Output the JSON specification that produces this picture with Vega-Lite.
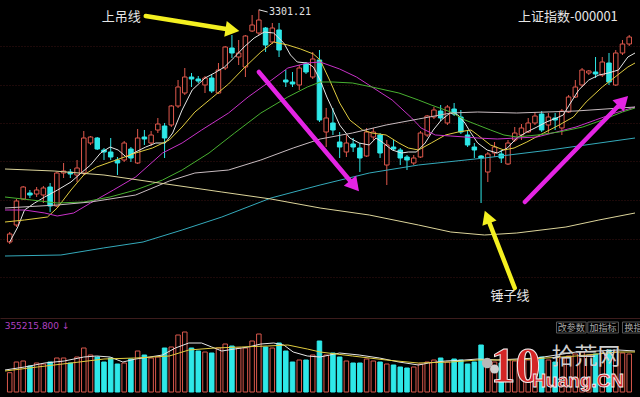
{
"$schema": "https://vega.github.io/schema/vega-lite/v6.json",
"background": "#000000",
"padding": 0,
"spacing": 0,
"config": {"view": {"stroke": null}, "axis": {"domain": false}},
"datasets": {
"k": [
{"i":0,"o":3069,"c":3077,"h":3079,"l":3067,"v":193000},
{"i":1,"o":3086,"c":3110,"h":3112,"l":3084,"v":300000},
{"i":2,"o":3112,"c":3124,"h":3125,"l":3111,"v":310000},
{"i":3,"o":3118,"c":3116,"h":3121,"l":3113,"v":260000},
{"i":4,"o":3117,"c":3121,"h":3124,"l":3114,"v":290000},
{"i":5,"o":3116,"c":3123,"h":3125,"l":3108,"v":280000},
{"i":6,"o":3124,"c":3105,"h":3128,"l":3099,"v":300000},
{"i":7,"o":3105,"c":3138,"h":3139,"l":3104,"v":340000},
{"i":8,"o":3138,"c":3140,"h":3148,"l":3133,"v":340000},
{"i":9,"o":3139,"c":3137,"h":3142,"l":3133,"v":290000},
{"i":10,"o":3136,"c":3143,"h":3151,"l":3129,"v":350000},
{"i":11,"o":3138,"c":3173,"h":3180,"l":3136,"v":440000},
{"i":12,"o":3168,"c":3174,"h":3175,"l":3166,"v":370000},
{"i":13,"o":3173,"c":3162,"h":3174,"l":3161,"v":350000},
{"i":14,"o":3161,"c":3159,"h":3163,"l":3151,"v":300000},
{"i":15,"o":3159,"c":3154,"h":3173,"l":3151,"v":340000},
{"i":16,"o":3151,"c":3148,"h":3154,"l":3136,"v":280000},
{"i":17,"o":3151,"c":3168,"h":3170,"l":3149,"v":290000},
{"i":18,"o":3162,"c":3153,"h":3164,"l":3149,"v":330000},
{"i":19,"o":3148,"c":3173,"h":3182,"l":3147,"v":410000},
{"i":20,"o":3174,"c":3172,"h":3181,"l":3166,"v":370000},
{"i":21,"o":3168,"c":3176,"h":3180,"l":3165,"v":340000},
{"i":22,"o":3181,"c":3187,"h":3193,"l":3178,"v":350000},
{"i":23,"o":3185,"c":3173,"h":3188,"l":3153,"v":440000},
{"i":24,"o":3186,"c":3205,"h":3206,"l":3184,"v":450000},
{"i":25,"o":3205,"c":3224,"h":3231,"l":3203,"v":570000},
{"i":26,"o":3218,"c":3234,"h":3243,"l":3216,"v":600000},
{"i":27,"o":3234,"c":3232,"h":3238,"l":3224,"v":440000},
{"i":28,"o":3232,"c":3230,"h":3235,"l":3228,"v":410000},
{"i":29,"o":3226,"c":3233,"h":3235,"l":3218,"v":400000},
{"i":30,"o":3233,"c":3220,"h":3236,"l":3218,"v":390000},
{"i":31,"o":3218,"c":3241,"h":3248,"l":3217,"v":440000},
{"i":32,"o":3243,"c":3264,"h":3265,"l":3241,"v":480000},
{"i":33,"o":3263,"c":3258,"h":3276,"l":3253,"v":460000},
{"i":34,"o":3254,"c":3258,"h":3271,"l":3246,"v":440000},
{"i":35,"o":3244,"c":3275,"h":3276,"l":3234,"v":440000},
{"i":36,"o":3280,"c":3286,"h":3296,"l":3279,"v":510000},
{"i":37,"o":3278,"c":3291,"h":3301.21,"l":3276,"v":580000},
{"i":38,"o":3283,"c":3266,"h":3284,"l":3259,"v":450000},
{"i":39,"o":3269,"c":3283,"h":3288,"l":3267,"v":440000},
{"i":40,"o":3281,"c":3261,"h":3288,"l":3254,"v":490000},
{"i":41,"o":3231,"c":3229,"h":3241,"l":3224,"v":410000},
{"i":42,"o":3229,"c":3227,"h":3239,"l":3224,"v":300000},
{"i":43,"o":3226,"c":3243,"h":3246,"l":3221,"v":320000},
{"i":44,"o":3247,"c":3239,"h":3249,"l":3237,"v":320000},
{"i":45,"o":3234,"c":3252,"h":3259,"l":3232,"v":370000},
{"i":46,"o":3251,"c":3191,"h":3261,"l":3189,"v":510000},
{"i":47,"o":3179,"c":3193,"h":3203,"l":3164,"v":370000},
{"i":48,"o":3188,"c":3181,"h":3203,"l":3176,"v":390000},
{"i":49,"o":3169,"c":3164,"h":3179,"l":3153,"v":350000},
{"i":50,"o":3159,"c":3168,"h":3176,"l":3154,"v":310000},
{"i":51,"o":3167,"c":3164,"h":3173,"l":3159,"v":290000},
{"i":52,"o":3163,"c":3153,"h":3168,"l":3139,"v":290000},
{"i":53,"o":3155,"c":3179,"h":3183,"l":3154,"v":330000},
{"i":54,"o":3174,"c":3179,"h":3183,"l":3171,"v":310000},
{"i":55,"o":3176,"c":3158,"h":3178,"l":3153,"v":300000},
{"i":56,"o":3146,"c":3166,"h":3171,"l":3126,"v":280000},
{"i":57,"o":3164,"c":3162,"h":3171,"l":3160,"v":270000},
{"i":58,"o":3161,"c":3153,"h":3163,"l":3146,"v":250000},
{"i":59,"o":3154,"c":3151,"h":3156,"l":3141,"v":240000},
{"i":60,"o":3148,"c":3153,"h":3156,"l":3146,"v":250000},
{"i":61,"o":3154,"c":3178,"h":3180,"l":3153,"v":280000},
{"i":62,"o":3176,"c":3195,"h":3196,"l":3174,"v":300000},
{"i":63,"o":3194,"c":3201,"h":3204,"l":3192,"v":320000},
{"i":64,"o":3200,"c":3193,"h":3206,"l":3190,"v":340000},
{"i":65,"o":3188,"c":3204,"h":3206,"l":3186,"v":300000},
{"i":66,"o":3202,"c":3197,"h":3208,"l":3195,"v":330000},
{"i":67,"o":3194,"c":3179,"h":3201,"l":3177,"v":320000},
{"i":68,"o":3176,"c":3166,"h":3181,"l":3164,"v":280000},
{"i":69,"o":3164,"c":3161,"h":3168,"l":3153,"v":300000},
{"i":70,"o":3155,"c":3153,"h":3156,"l":3108,"v":470000},
{"i":71,"o":3139,"c":3157,"h":3159,"l":3129,"v":330000},
{"i":72,"o":3158,"c":3164,"h":3169,"l":3154,"v":300000},
{"i":73,"o":3157,"c":3153,"h":3161,"l":3148,"v":290000},
{"i":74,"o":3147,"c":3168,"h":3171,"l":3146,"v":320000},
{"i":75,"o":3171,"c":3178,"h":3184,"l":3169,"v":310000},
{"i":76,"o":3176,"c":3183,"h":3187,"l":3171,"v":300000},
{"i":77,"o":3179,"c":3188,"h":3193,"l":3178,"v":320000},
{"i":78,"o":3188,"c":3195,"h":3199,"l":3186,"v":330000},
{"i":79,"o":3197,"c":3181,"h":3200,"l":3179,"v":350000},
{"i":80,"o":3186,"c":3194,"h":3198,"l":3178,"v":320000},
{"i":81,"o":3193,"c":3191,"h":3198,"l":3181,"v":300000},
{"i":82,"o":3183,"c":3200,"h":3202,"l":3176,"v":340000},
{"i":83,"o":3199,"c":3214,"h":3216,"l":3198,"v":360000},
{"i":84,"o":3214,"c":3224,"h":3231,"l":3213,"v":380000},
{"i":85,"o":3226,"c":3241,"h":3243,"l":3224,"v":400000},
{"i":86,"o":3238,"c":3240,"h":3241,"l":3236,"v":370000},
{"i":87,"o":3239,"c":3237,"h":3254,"l":3233,"v":380000},
{"i":88,"o":3236,"c":3249,"h":3254,"l":3234,"v":390000},
{"i":89,"o":3248,"c":3229,"h":3258,"l":3226,"v":420000},
{"i":90,"o":3226,"c":3258,"h":3261,"l":3225,"v":400000},
{"i":91,"o":3258,"c":3267,"h":3271,"l":3256,"v":390000},
{"i":92,"o":3267,"c":3274,"h":3276,"l":3265,"v":380000}
],
"ma": [
{"s":"MA5","i":0,"p":3069},{"s":"MA5","i":1.2,"p":3084},{"s":"MA5","i":2.2,"p":3101},{"s":"MA5","i":3.7,"p":3108},{"s":"MA5","i":5.2,"p":3114},{"s":"MA5","i":7.1,"p":3121},{"s":"MA5","i":9.1,"p":3129},{"s":"MA5","i":10.6,"p":3138},{"s":"MA5","i":12,"p":3146},{"s":"MA5","i":13.5,"p":3158},{"s":"MA5","i":14.9,"p":3164},{"s":"MA5","i":16.1,"p":3161},{"s":"MA5","i":17.3,"p":3154},{"s":"MA5","i":18.7,"p":3159},{"s":"MA5","i":20.2,"p":3164},{"s":"MA5","i":21.7,"p":3168},{"s":"MA5","i":23.1,"p":3168},{"s":"MA5","i":24.2,"p":3178},{"s":"MA5","i":25.6,"p":3201},{"s":"MA5","i":27.1,"p":3221},{"s":"MA5","i":29,"p":3233},{"s":"MA5","i":30.4,"p":3238},{"s":"MA5","i":31.9,"p":3244},{"s":"MA5","i":33.4,"p":3254},{"s":"MA5","i":34.8,"p":3264},{"s":"MA5","i":36.3,"p":3273},{"s":"MA5","i":37.8,"p":3279},{"s":"MA5","i":39.2,"p":3278},{"s":"MA5","i":40.7,"p":3268},{"s":"MA5","i":41.7,"p":3256},{"s":"MA5","i":42.7,"p":3249},{"s":"MA5","i":44.2,"p":3248},{"s":"MA5","i":45.1,"p":3244},{"s":"MA5","i":46.1,"p":3231},{"s":"MA5","i":47.1,"p":3214},{"s":"MA5","i":48,"p":3201},{"s":"MA5","i":49,"p":3186},{"s":"MA5","i":50.5,"p":3173},{"s":"MA5","i":51.9,"p":3168},{"s":"MA5","i":53.4,"p":3166},{"s":"MA5","i":54.4,"p":3173},{"s":"MA5","i":55.3,"p":3169},{"s":"MA5","i":56.8,"p":3161},{"s":"MA5","i":58.2,"p":3158},{"s":"MA5","i":59.2,"p":3159},{"s":"MA5","i":60.4,"p":3159},{"s":"MA5","i":61.7,"p":3168},{"s":"MA5","i":62.9,"p":3181},{"s":"MA5","i":64.1,"p":3191},{"s":"MA5","i":65.4,"p":3198},{"s":"MA5","i":66.6,"p":3196},{"s":"MA5","i":67.6,"p":3188},{"s":"MA5","i":68.5,"p":3178},{"s":"MA5","i":69.5,"p":3168},{"s":"MA5","i":70.9,"p":3161},{"s":"MA5","i":72.4,"p":3158},{"s":"MA5","i":73.9,"p":3163},{"s":"MA5","i":75.3,"p":3173},{"s":"MA5","i":76.8,"p":3179},{"s":"MA5","i":78.3,"p":3184},{"s":"MA5","i":79.7,"p":3189},{"s":"MA5","i":81.2,"p":3193},{"s":"MA5","i":82.2,"p":3196},{"s":"MA5","i":83.1,"p":3206},{"s":"MA5","i":84.5,"p":3221},{"s":"MA5","i":86,"p":3231},{"s":"MA5","i":87.5,"p":3236},{"s":"MA5","i":88.9,"p":3238},{"s":"MA5","i":90.4,"p":3241},{"s":"MA5","i":91.8,"p":3254},{"s":"MA5","i":92.86,"p":3258},
{"s":"MA10","i":-0.7,"p":3089},{"s":"MA10","i":2.2,"p":3091},{"s":"MA10","i":5.6,"p":3094},{"s":"MA10","i":7.05,"p":3103},{"s":"MA10","i":9.1,"p":3121},{"s":"MA10","i":11,"p":3136},{"s":"MA10","i":12.9,"p":3144},{"s":"MA10","i":15.8,"p":3151},{"s":"MA10","i":18.7,"p":3158},{"s":"MA10","i":21.2,"p":3163},{"s":"MA10","i":23.7,"p":3171},{"s":"MA10","i":25.6,"p":3184},{"s":"MA10","i":27.5,"p":3199},{"s":"MA10","i":30,"p":3213},{"s":"MA10","i":32.5,"p":3227},{"s":"MA10","i":34.8,"p":3243},{"s":"MA10","i":37.3,"p":3259},{"s":"MA10","i":39.2,"p":3269},{"s":"MA10","i":41.3,"p":3266},{"s":"MA10","i":43.2,"p":3262},{"s":"MA10","i":45.1,"p":3257},{"s":"MA10","i":46.1,"p":3251},{"s":"MA10","i":47.5,"p":3231},{"s":"MA10","i":49,"p":3208},{"s":"MA10","i":50.5,"p":3191},{"s":"MA10","i":52.4,"p":3181},{"s":"MA10","i":53.8,"p":3178},{"s":"MA10","i":55.9,"p":3176},{"s":"MA10","i":57.8,"p":3168},{"s":"MA10","i":59.2,"p":3163},{"s":"MA10","i":60.7,"p":3161},{"s":"MA10","i":62.6,"p":3168},{"s":"MA10","i":64.7,"p":3176},{"s":"MA10","i":66.6,"p":3179},{"s":"MA10","i":68.5,"p":3181},{"s":"MA10","i":69.5,"p":3176},{"s":"MA10","i":71.4,"p":3166},{"s":"MA10","i":73.4,"p":3161},{"s":"MA10","i":74.9,"p":3163},{"s":"MA10","i":76.8,"p":3169},{"s":"MA10","i":79.3,"p":3178},{"s":"MA10","i":81.6,"p":3186},{"s":"MA10","i":83.7,"p":3194},{"s":"MA10","i":85.6,"p":3209},{"s":"MA10","i":88,"p":3224},{"s":"MA10","i":89.9,"p":3234},{"s":"MA10","i":91.8,"p":3244},{"s":"MA10","i":92.86,"p":3248},
{"s":"MA20","i":-0.7,"p":3101},{"s":"MA20","i":2.2,"p":3101},{"s":"MA20","i":5.2,"p":3098},{"s":"MA20","i":7.05,"p":3095},{"s":"MA20","i":9.5,"p":3098},{"s":"MA20","i":12,"p":3108},{"s":"MA20","i":15.4,"p":3121},{"s":"MA20","i":18.7,"p":3134},{"s":"MA20","i":22.7,"p":3158},{"s":"MA20","i":25.6,"p":3168},{"s":"MA20","i":28.5,"p":3181},{"s":"MA20","i":32.5,"p":3198},{"s":"MA20","i":35.4,"p":3214},{"s":"MA20","i":38.3,"p":3228},{"s":"MA20","i":41.3,"p":3243},{"s":"MA20","i":44.2,"p":3248},{"s":"MA20","i":46.1,"p":3249},{"s":"MA20","i":49,"p":3242},{"s":"MA20","i":51.5,"p":3234},{"s":"MA20","i":53.8,"p":3224},{"s":"MA20","i":56.8,"p":3211},{"s":"MA20","i":59.7,"p":3193},{"s":"MA20","i":61.1,"p":3183},{"s":"MA20","i":63.2,"p":3176},{"s":"MA20","i":65.5,"p":3175},{"s":"MA20","i":67.6,"p":3174},{"s":"MA20","i":69.5,"p":3173},{"s":"MA20","i":72.4,"p":3172},{"s":"MA20","i":75.3,"p":3173},{"s":"MA20","i":78.3,"p":3174},{"s":"MA20","i":81.2,"p":3179},{"s":"MA20","i":84.1,"p":3184},{"s":"MA20","i":87,"p":3191},{"s":"MA20","i":89.9,"p":3198},{"s":"MA20","i":92.86,"p":3204},
{"s":"MA30","i":-0.7,"p":3114},{"s":"MA30","i":3.25,"p":3111},{"s":"MA30","i":7.05,"p":3108},{"s":"MA30","i":11,"p":3109},{"s":"MA30","i":14.9,"p":3114},{"s":"MA30","i":18.7,"p":3121},{"s":"MA30","i":22.7,"p":3131},{"s":"MA30","i":25.6,"p":3141},{"s":"MA30","i":29.6,"p":3158},{"s":"MA30","i":33.4,"p":3178},{"s":"MA30","i":37.3,"p":3198},{"s":"MA30","i":41.3,"p":3214},{"s":"MA30","i":44.2,"p":3224},{"s":"MA30","i":46.1,"p":3229},{"s":"MA30","i":48,"p":3229},{"s":"MA30","i":50.9,"p":3228},{"s":"MA30","i":53.8,"p":3224},{"s":"MA30","i":57.8,"p":3218},{"s":"MA30","i":60.7,"p":3211},{"s":"MA30","i":62.6,"p":3206},{"s":"MA30","i":65.5,"p":3199},{"s":"MA30","i":67.6,"p":3191},{"s":"MA30","i":69.5,"p":3186},{"s":"MA30","i":71.4,"p":3181},{"s":"MA30","i":73.4,"p":3176},{"s":"MA30","i":75.3,"p":3174},{"s":"MA30","i":78.3,"p":3176},{"s":"MA30","i":81.6,"p":3179},{"s":"MA30","i":85.1,"p":3184},{"s":"MA30","i":88,"p":3191},{"s":"MA30","i":91,"p":3199},{"s":"MA30","i":92.86,"p":3203},
{"s":"MA60","i":-0.7,"p":3103},{"s":"MA60","i":7.05,"p":3106},{"s":"MA60","i":12,"p":3109},{"s":"MA60","i":18.7,"p":3116},{"s":"MA60","i":23.7,"p":3130},{"s":"MA60","i":27.5,"p":3138},{"s":"MA60","i":32.5,"p":3141},{"s":"MA60","i":37.3,"p":3151},{"s":"MA60","i":42.1,"p":3163},{"s":"MA60","i":46.1,"p":3172},{"s":"MA60","i":50.9,"p":3178},{"s":"MA60","i":55.9,"p":3186},{"s":"MA60","i":60.7,"p":3192},{"s":"MA60","i":65.5,"p":3198},{"s":"MA60","i":69.5,"p":3199},{"s":"MA60","i":75.3,"p":3198},{"s":"MA60","i":84.1,"p":3200},{"s":"MA60","i":92.86,"p":3204},
{"s":"MA120","i":-0.7,"p":3055},{"s":"MA120","i":7.6,"p":3056},{"s":"MA120","i":13.9,"p":3063},{"s":"MA120","i":19.8,"p":3069},{"s":"MA120","i":25.6,"p":3081},{"s":"MA120","i":31.5,"p":3094},{"s":"MA120","i":38.8,"p":3113},{"s":"MA120","i":46.1,"p":3126},{"s":"MA120","i":53.4,"p":3138},{"s":"MA120","i":60.7,"p":3146},{"s":"MA120","i":70.5,"p":3153},{"s":"MA120","i":80.2,"p":3161},{"s":"MA120","i":92.86,"p":3173},
{"s":"MA250","i":-0.7,"p":3142},{"s":"MA250","i":6.6,"p":3140},{"s":"MA250","i":14,"p":3136},{"s":"MA250","i":21.2,"p":3129},{"s":"MA250","i":31.5,"p":3119},{"s":"MA250","i":38.8,"p":3112},{"s":"MA250","i":46.1,"p":3103},{"s":"MA250","i":53.4,"p":3096},{"s":"MA250","i":60.7,"p":3086},{"s":"MA250","i":65.5,"p":3079},{"s":"MA250","i":70.5,"p":3076},{"s":"MA250","i":75.3,"p":3078},{"s":"MA250","i":82.6,"p":3084},{"s":"MA250","i":87.5,"p":3091},{"s":"MA250","i":92.86,"p":3098}
],
"vma": [
{"s":"MA5","i":-0.7,"v":220000},{"s":"MA5","i":2.2,"v":250000},{"s":"MA5","i":5.2,"v":290000},{"s":"MA5","i":8.1,"v":310000},{"s":"MA5","i":11,"v":350000},{"s":"MA5","i":12.9,"v":360000},{"s":"MA5","i":14.9,"v":350000},{"s":"MA5","i":16.8,"v":300000},{"s":"MA5","i":18.7,"v":330000},{"s":"MA5","i":20.8,"v":350000},{"s":"MA5","i":22.7,"v":370000},{"s":"MA5","i":24.6,"v":440000},{"s":"MA5","i":26.6,"v":490000},{"s":"MA5","i":28.5,"v":490000},{"s":"MA5","i":30,"v":450000},{"s":"MA5","i":31.5,"v":410000},{"s":"MA5","i":33.4,"v":430000},{"s":"MA5","i":35.4,"v":450000},{"s":"MA5","i":37.3,"v":480000},{"s":"MA5","i":39.2,"v":490000},{"s":"MA5","i":40.7,"v":470000},{"s":"MA5","i":42.1,"v":400000},{"s":"MA5","i":44.2,"v":360000},{"s":"MA5","i":46.1,"v":350000},{"s":"MA5","i":49,"v":390000},{"s":"MA5","i":51.9,"v":370000},{"s":"MA5","i":54.9,"v":340000},{"s":"MA5","i":57.8,"v":300000},{"s":"MA5","i":60.7,"v":270000},{"s":"MA5","i":62.2,"v":290000},{"s":"MA5","i":64.7,"v":310000},{"s":"MA5","i":67.6,"v":320000},{"s":"MA5","i":69.5,"v":330000},{"s":"MA5","i":72.4,"v":320000},{"s":"MA5","i":78.3,"v":340000},{"s":"MA5","i":84.1,"v":400000},{"s":"MA5","i":90.4,"v":420000},{"s":"MA5","i":92.86,"v":410000},
{"s":"MA10","i":-0.7,"v":210000},{"s":"MA10","i":4.1,"v":250000},{"s":"MA10","i":9.1,"v":290000},{"s":"MA10","i":14,"v":330000},{"s":"MA10","i":18.7,"v":340000},{"s":"MA10","i":23.7,"v":360000},{"s":"MA10","i":26.6,"v":420000},{"s":"MA10","i":30.4,"v":440000},{"s":"MA10","i":34.4,"v":450000},{"s":"MA10","i":38.3,"v":460000},{"s":"MA10","i":41.3,"v":470000},{"s":"MA10","i":44.2,"v":430000},{"s":"MA10","i":46.1,"v":400000},{"s":"MA10","i":50.9,"v":360000},{"s":"MA10","i":55.9,"v":320000},{"s":"MA10","i":60.7,"v":290000},{"s":"MA10","i":65.5,"v":300000},{"s":"MA10","i":69.5,"v":320000},{"s":"MA10","i":75.3,"v":320000},{"s":"MA10","i":84.1,"v":360000},{"s":"MA10","i":90.4,"v":400000},{"s":"MA10","i":92.86,"v":400000}
],
"arrows": [
{"id":"hang","i1":20.2,"p1":3295,"i2":33.07,"p2":3281},
{"id":"fall","i1":37.0,"p1":3239,"i2":51.2,"p2":3125},
{"id":"hammer","i1":75.0,"p1":3023,"i2":70.9,"p2":3094},
{"id":"rise","i1":76.5,"p1":3109,"i2":91.1,"p2":3210}
]
},
"vconcat": [
{
"width": 640, "height": 318,
"layer": [
{"data": {"name": "k"}, "mark": {"type": "rule", "strokeWidth": 1},
 "encoding": {
  "x": {"field": "i", "type": "quantitative", "scale": {"domain": [-0.7, 92.86], "nice": false, "zero": false}, "axis": null},
  "y": {"field": "l", "type": "quantitative", "scale": {"domain": [2993, 3311], "nice": false, "zero": false},
        "axis": {"values": [3265, 3226.5, 3188, 3149.5, 3111, 3072.5, 3034], "labels": false, "ticks": false, "domain": false, "title": null, "grid": true, "gridColor": "#3a1212", "gridDash": [1, 2], "gridWidth": 1}},
  "y2": {"field": "h"},
  "color": {"condition": {"test": "datum.c >= datum.o", "value": "#e0584c"}, "value": "#2ee8e8"}
 }},
{"data": {"name": "k"}, "mark": {"type": "bar", "size": 4.5, "strokeWidth": 1},
 "encoding": {
  "x": {"field": "i", "type": "quantitative"},
  "y": {"field": "o", "type": "quantitative"},
  "y2": {"field": "c"},
  "fill": {"condition": {"test": "datum.c >= datum.o", "value": "#000000"}, "value": "#2ee8e8"},
  "stroke": {"condition": {"test": "datum.c >= datum.o", "value": "#e0584c"}, "value": "#2ee8e8"}
 }},
{"data": {"name": "ma"}, "mark": {"type": "line", "strokeWidth": 1, "clip": true},
 "encoding": {
  "x": {"field": "i", "type": "quantitative"},
  "y": {"field": "p", "type": "quantitative"},
  "color": {"field": "s", "type": "nominal", "legend": null,
   "scale": {"domain": ["MA5","MA10","MA20","MA30","MA60","MA120","MA250"], "range": ["#e6e6e6","#e0cc40","#c832c8","#48b030","#c8bcc0","#34aabb","#dcd49a"]}}
 }},
{"data": {"name": "arrows"}, "mark": {"type": "rule", "strokeWidth": 4.5, "strokeCap": "round"},
 "encoding": {
  "x": {"field": "i1", "type": "quantitative"}, "y": {"field": "p1", "type": "quantitative"},
  "x2": {"field": "i2"}, "y2": {"field": "p2"},
  "stroke": {"field": "id", "type": "nominal", "legend": null, "scale": {"domain": ["hang","fall","hammer","rise"], "range": ["#f4f020","#e424e4","#f4f020","#e424e4"]}}
 }},
{"data": {"name": "arrows"}, "transform": [{"filter": "datum.id == 'hang'"}], "mark": {"type": "point", "shape": "triangle-up", "filled": true, "size": 260, "angle": 99, "color": "#f4f020", "opacity": 1},
 "encoding": {"x": {"field": "i2", "type": "quantitative"}, "y": {"field": "p2", "type": "quantitative"}}},
{"data": {"name": "arrows"}, "transform": [{"filter": "datum.id == 'fall'"}], "mark": {"type": "point", "shape": "triangle-up", "filled": true, "size": 260, "angle": 140, "color": "#e424e4", "opacity": 1},
 "encoding": {"x": {"field": "i2", "type": "quantitative"}, "y": {"field": "p2", "type": "quantitative"}}},
{"data": {"name": "arrows"}, "transform": [{"filter": "datum.id == 'hammer'"}], "mark": {"type": "point", "shape": "triangle-up", "filled": true, "size": 230, "angle": -21, "color": "#f4f020", "opacity": 1},
 "encoding": {"x": {"field": "i2", "type": "quantitative"}, "y": {"field": "p2", "type": "quantitative"}}},
{"data": {"name": "arrows"}, "transform": [{"filter": "datum.id == 'rise'"}], "mark": {"type": "point", "shape": "triangle-up", "filled": true, "size": 260, "angle": 45, "color": "#e424e4", "opacity": 1},
 "encoding": {"x": {"field": "i2", "type": "quantitative"}, "y": {"field": "p2", "type": "quantitative"}}},
{"data": {"values": [{"i1": 37, "p1": 3301.21, "i2": 38.3, "p2": 3299}]}, "mark": {"type": "rule", "strokeWidth": 1, "color": "#e0e0e0"},
 "encoding": {"x": {"field": "i1", "type": "quantitative"}, "y": {"field": "p1", "type": "quantitative"}, "x2": {"field": "i2"}, "y2": {"field": "p2"}}},
{"data": {"values": [{"i": 38.5, "p": 3299, "t": "3301.21"}]}, "mark": {"type": "text", "align": "left", "baseline": "middle", "font": "DejaVu Sans Mono", "fontSize": 10, "color": "#e0e0e0"},
 "encoding": {"x": {"field": "i", "type": "quantitative"}, "y": {"field": "p", "type": "quantitative"}, "text": {"field": "t"}}},
{"data": {"values": [{"i": 16.55, "p": 3294, "t": "上吊线"}, {"i": 82.9, "p": 3294, "t": "上证指数-000001"}, {"i": 74.3, "p": 3015, "t": "锤子线"}]}, "mark": {"type": "text", "align": "center", "baseline": "middle", "font": "Noto Sans CJK SC", "fontSize": 13, "color": "#e6e6e6"},
 "encoding": {"x": {"field": "i", "type": "quantitative"}, "y": {"field": "p", "type": "quantitative"}, "text": {"field": "t"}}}
]
},
{
"width": 640, "height": 79,
"layer": [
{"data": {"name": "k"}, "mark": {"type": "bar", "size": 4.5, "strokeWidth": 1},
 "encoding": {
  "x": {"field": "i", "type": "quantitative", "scale": {"domain": [-0.7, 92.86], "nice": false, "zero": false},
        "axis": {"orient": "top", "domain": true, "domainColor": "#3c1c1c", "domainWidth": 1, "ticks": false, "labels": false, "grid": false, "title": null}},
  "y": {"field": "v", "type": "quantitative", "scale": {"domain": [-50000, 740000], "nice": false, "zero": false}, "axis": null},
  "y2": {"datum": 0},
  "fill": {"condition": {"test": "datum.c >= datum.o", "value": "#000000"}, "value": "#2ee8e8"},
  "stroke": {"condition": {"test": "datum.c >= datum.o", "value": "#d8584c"}, "value": "#2ee8e8"}
 }},
{"data": {"name": "vma"}, "mark": {"type": "line", "strokeWidth": 1, "clip": true},
 "encoding": {
  "x": {"field": "i", "type": "quantitative"},
  "y": {"field": "v", "type": "quantitative"},
  "color": {"field": "s", "type": "nominal", "legend": null, "scale": {"domain": ["MA5","MA10"], "range": ["#e0c040","#c038c0"]}}
 }},
{"data": {"values": [{"i": -0.75, "v": 660000, "t": "355215.800 ↓"}]}, "mark": {"type": "text", "align": "left", "baseline": "middle", "font": "DejaVu Sans", "fontSize": 9, "color": "#b040c0"},
 "encoding": {"x": {"field": "i", "type": "quantitative"}, "y": {"field": "v", "type": "quantitative"}, "text": {"field": "t"}}},
{"data": {"values": [{"i1": 81.2, "i2": 85.6, "v1": 590000, "v2": 700000}, {"i1": 85.85, "i2": 90.4, "v1": 590000, "v2": 700000}, {"i1": 91.0, "i2": 96, "v1": 590000, "v2": 700000}]}, "mark": {"type": "rect", "fill": "#000000", "stroke": "#5a5a5a", "strokeWidth": 1, "clip": true},
 "encoding": {"x": {"field": "i1", "type": "quantitative"}, "x2": {"field": "i2"}, "y": {"field": "v1", "type": "quantitative"}, "y2": {"field": "v2"}}},
{"data": {"values": [{"i": 83.4, "v": 645000, "t": "改参数"}, {"i": 88.1, "v": 645000, "t": "加指标"}, {"i": 93.3, "v": 645000, "t": "换指标"}]}, "mark": {"type": "text", "align": "center", "baseline": "middle", "font": "Noto Sans CJK SC", "fontSize": 9, "color": "#a8a8a8", "clip": true},
 "encoding": {"x": {"field": "i", "type": "quantitative"}, "y": {"field": "v", "type": "quantitative"}, "text": {"field": "t"}}},
{"data": {"values": [{"i": 70.9, "v": 290000}]}, "mark": {"type": "point", "shape": "circle", "filled": true, "size": 110, "color": "#b8b8b8", "opacity": 1},
 "encoding": {"x": {"field": "i", "type": "quantitative"}, "y": {"field": "v", "type": "quantitative"}}},
{"data": {"values": [{"i": 72.0, "v": 230000}]}, "mark": {"type": "point", "shape": "circle", "filled": true, "size": 80, "color": "#d0d0d0", "opacity": 1},
 "encoding": {"x": {"field": "i", "type": "quantitative"}, "y": {"field": "v", "type": "quantitative"}}},
{"data": {"values": [{"i": 75.1, "v": 255000, "t": "10"}]}, "mark": {"type": "text", "align": "center", "baseline": "middle", "font": "Liberation Sans Narrow", "fontWeight": "bold", "fontSize": 50, "fill": "#d42626", "stroke": "#f0f0f0", "strokeWidth": 1},
 "encoding": {"x": {"field": "i", "type": "quantitative"}, "y": {"field": "v", "type": "quantitative"}, "text": {"field": "t"}}},
{"data": {"values": [{"i": 85.6, "v": 350000, "t": "拾荒网"}]}, "mark": {"type": "text", "align": "center", "baseline": "middle", "font": "Noto Sans CJK SC", "fontSize": 23, "color": "#cfcfcf"},
 "encoding": {"x": {"field": "i", "type": "quantitative"}, "y": {"field": "v", "type": "quantitative"}, "text": {"field": "t"}}},
{"data": {"values": [{"i": 84.4, "v": 115000, "t": "Huang.CN"}]}, "mark": {"type": "text", "align": "center", "baseline": "middle", "font": "Liberation Sans", "fontWeight": "bold", "fontSize": 19, "fill": "#d42626", "stroke": "#f0f0f0", "strokeWidth": 0.8},
 "encoding": {"x": {"field": "i", "type": "quantitative"}, "y": {"field": "v", "type": "quantitative"}, "text": {"field": "t"}}}
]
}
]
}
